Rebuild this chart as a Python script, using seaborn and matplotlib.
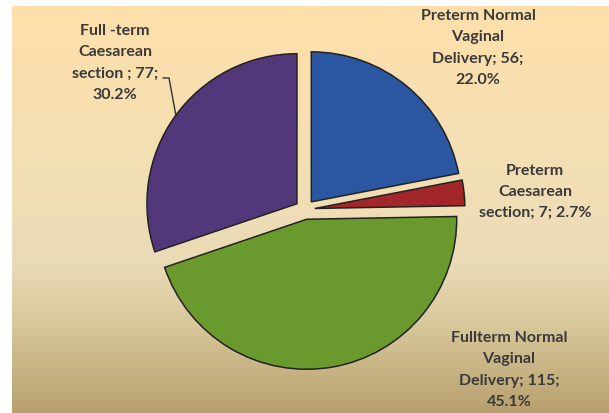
import numpy as np
import matplotlib.pyplot as plt
import seaborn as sns
from matplotlib.colors import LinearSegmentedColormap
from matplotlib.lines import Line2D

# data (clockwise from 12 o'clock)
categories = ['Preterm Normal Vaginal Delivery', 'Preterm Caesarean section',
              'Fullterm Normal Vaginal Delivery', 'Full-term Caesarean section']
counts = [56, 7, 115, 77]
percents = [22.0, 2.7, 45.1, 30.2]
label_texts = ['Preterm Normal\nVaginal\nDelivery; 56;\n22.0%',
               'Preterm\nCaesarean\nsection; 7; 2.7%',
               'Fullterm Normal\nVaginal\nDelivery; 115;\n45.1%',
               'Full -term\nCaesarean\nsection ; 77;\n30.2%']
colors = ['#2A56A2', '#A2262A', '#6A9A2E', '#52387A']

# layout (pixels)
W, H = 609, 414
cx, cy, R = 305, 210.5, 150
label_pos = [(478, 48), (535, 192), (509, 370), (115, 63)]

sns.set_theme(style='white')
plt.rcParams['font.family'] = ['Lato', 'DejaVu Sans']

fig = plt.figure(figsize=(W / 100, H / 100), dpi=100)
fig.patch.set_facecolor('white')

# gradient background
bg = fig.add_axes([12 / W, 0, 1 - 12 / W, (H - 7) / H])
grad = LinearSegmentedColormap.from_list('bg', [
    (0, '#FEDFAA'), (0.4, '#F3DFB5'), (0.63, '#E9DBB6'),
    (0.78, '#D8C89C'), (1, '#B8A06E')])
bg.imshow(np.linspace(0, 1, 256).reshape(-1, 1), aspect='auto', cmap=grad,
          extent=[0, 1, 0, 1])
bg.axis('off')

ax = fig.add_axes([0, 0, 1, 1])
ax.patch.set_alpha(0)
ax.pie(counts, colors=colors, startangle=90, counterclock=False,
       explode=[0.066] * len(counts),
       wedgeprops=dict(edgecolor='#222222', linewidth=1.1))
ax.set_xlim(-cx / R, (W - cx) / R)
ax.set_ylim(-(H - cy) / R, cy / R)
ax.set_aspect('auto')
ax.axis('off')

for txt, (px, py) in zip(label_texts, label_pos):
    fig.text(px / W, 1 - py / H, txt, ha='center', va='center',
             fontsize=11.5, fontweight='bold', color='#3a3a3a',
             linespacing=1.65)

# leader line for the Full-term Caesarean label
lx = np.array([163, 169, 176]) / W
ly = 1 - np.array([79, 79, 117]) / H
fig.add_artist(Line2D(lx, ly, color='#333333', linewidth=1.0,
                      transform=fig.transFigure))

fig.savefig('out.png', dpi=100)
